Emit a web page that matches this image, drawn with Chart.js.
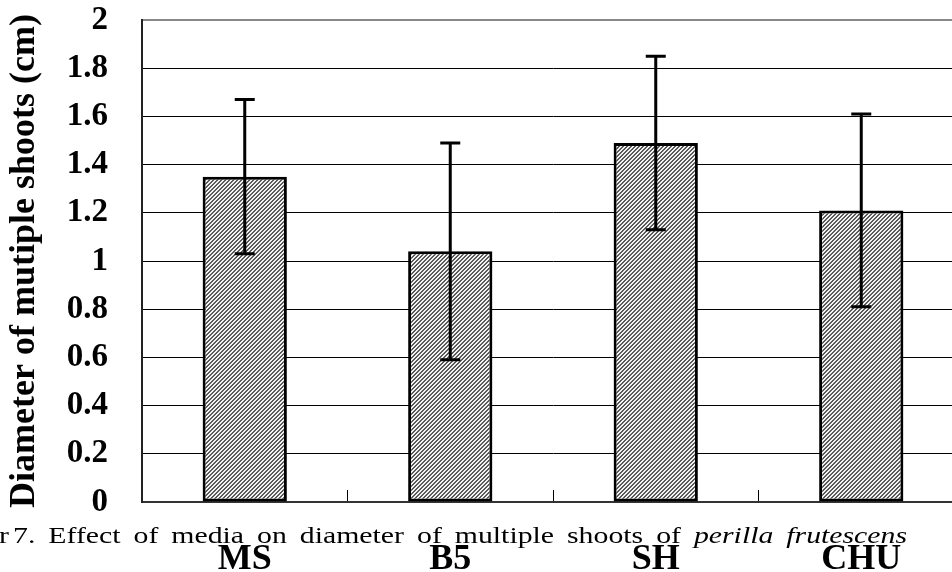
<!DOCTYPE html>
<html>
<head>
<meta charset="utf-8">
<script src="https://cdn.jsdelivr.net/npm/chart.js@4.4.1/dist/chart.umd.min.js"></script>
<style>
  html, body { margin: 0; padding: 0; background: #fff; }
  #wrap { width: 952px; height: 572px; overflow: hidden; position: relative; }
  #inner { width: 968px; height: 572px; }
</style>
</head>
<body>
<div id="wrap"><div id="inner"><canvas id="shootChart" width="968" height="572"></canvas></div></div>
<script>
// media and shoot diameters (cm), mean and standard deviation
const media = ['MS', 'B5', 'SH', 'CHU'];
const diameter = [1.35, 1.04, 1.49, 1.21];
const diameterSd = [0.32, 0.45, 0.36, 0.40];

const captionWords = ['r', '7.', 'Effect', 'of', 'media', 'on', 'diameter', 'of', 'multiple', 'shoots', 'of', 'perilla', 'frutescens'];
const italicFrom = 11;

const serif = '"Liberation Serif", "Times New Roman", serif';

document.addEventListener("DOMContentLoaded", () => {
    // fine diagonal hatch for the bars
    const tile = document.createElement('canvas');
    tile.width = 4; tile.height = 4;
    const tctx = tile.getContext('2d');
    for (let x = 0; x < 4; x++) {
        for (let y = 0; y < 4; y++) {
            tctx.fillStyle = ((x + y) % 4 < 2) ? '#5a5a5a' : '#f2f2f2';
            tctx.fillRect(x, y, 1, 1);
        }
    }
    const hatch = tctx.createPattern(tile, 'repeat');

    // error bars
    const errorBars = {
        id: 'errorBars',
        afterDatasetsDraw(chart) {
            const ctx = chart.ctx;
            const yScale = chart.scales.y;
            const meta = chart.getDatasetMeta(0);
            ctx.save();
            ctx.strokeStyle = '#000';
            ctx.lineWidth = 3;
            meta.data.forEach((bar, i) => {
                const top = yScale.getPixelForValue(diameter[i] + diameterSd[i]);
                const bot = yScale.getPixelForValue(diameter[i] - diameterSd[i]);
                ctx.beginPath();
                ctx.moveTo(bar.x, top);
                ctx.lineTo(bar.x, bot);
                ctx.moveTo(bar.x - 10, top);
                ctx.lineTo(bar.x + 10, top);
                ctx.moveTo(bar.x - 10, bot);
                ctx.lineTo(bar.x + 10, bot);
                ctx.stroke();
            });
            ctx.restore();
        }
    };

    // figure caption: wide serif lettering, words spread across the width
    const caption = {
        id: 'caption',
        afterDraw(chart) {
            const ctx = chart.ctx;
            const stretch = 1.24;
            const fontFor = i => (i >= italicFrom ? 'italic ' : '') + '24px ' + serif;
            ctx.save();
            ctx.fillStyle = '#000';
            ctx.textBaseline = 'alphabetic';
            const widths = captionWords.map((w, i) => { ctx.font = fontFor(i); return ctx.measureText(w).width * stretch; });
            const startX = 13, endX = 907;
            const rest = widths.slice(1).reduce((a, b) => a + b, 0);
            const gap = (endX - startX - rest) / (captionWords.length - 2);
            const put = (w, i, x) => {
                ctx.save();
                ctx.font = fontFor(i);
                ctx.translate(x, 543);
                ctx.scale(stretch, 1);
                ctx.fillText(w, 0, 0);
                ctx.restore();
            };
            put(captionWords[0], 0, -1);
            let x = startX;
            for (let i = 1; i < captionWords.length; i++) {
                put(captionWords[i], i, x);
                x += widths[i] + gap;
            }
            ctx.restore();
        }
    };

    Chart.defaults.color = '#000';
    Chart.defaults.font.family = serif;

    new Chart(document.getElementById('shootChart'), {
        type: 'bar',
        data: {
            labels: media,
            datasets: [{
                data: diameter,
                backgroundColor: hatch,
                borderColor: '#000',
                borderWidth: 3,
                borderSkipped: false,
                barPercentage: 0.41,
                categoryPercentage: 1
            }]
        },
        options: {
            responsive: false,
            animation: false,
            layout: { padding: { top: 20, right: 4, bottom: 0, left: 0 } },
            plugins: { legend: { display: false }, tooltip: { enabled: false } },
            scales: {
                x: {
                    grid: {
                        display: true,
                        drawOnChartArea: false,
                        drawTicks: true,
                        tickLength: -12,
                        color: '#000',
                        lineWidth: 1
                    },
                    border: { display: true, color: '#333', width: 2 },
                    ticks: {
                        padding: 52,
                        font: { family: serif, size: 36, weight: 'bold', lineHeight: 1 }
                    },
                    afterFit: s => {
                        s.height = 70;
                        s.paddingLeft = 0;
                        s.paddingRight = 0;
                    }
                },
                y: {
                    min: 0,
                    max: 2,
                    grid: {
                        drawTicks: false,
                        color: ctx => (ctx.tick && ctx.tick.value === 2) ? '#888' : '#000',
                        lineWidth: ctx => (ctx.tick && ctx.tick.value === 2) ? 2 : 1
                    },
                    border: { display: true, color: '#222', width: 2 },
                    ticks: {
                        stepSize: 0.2,
                        autoSkip: false,
                        padding: 34,
                        font: { family: serif, size: 33, weight: 'bold' },
                        callback: v => String(Number(v.toFixed(1)))
                    },
                    title: {
                        display: true,
                        text: 'Diameter of mutiple shoots (cm)',
                        font: { family: serif, size: 36, weight: 'bold', lineHeight: 1 },
                        padding: { top: 7, bottom: 24 }
                    },
                    afterFit: s => {
                        s.width = 142;
                        s.paddingTop = 0;
                        s.paddingBottom = 0;
                    }
                }
            }
        },
        plugins: [errorBars, caption]
    });
});
</script>
</body>
</html>
